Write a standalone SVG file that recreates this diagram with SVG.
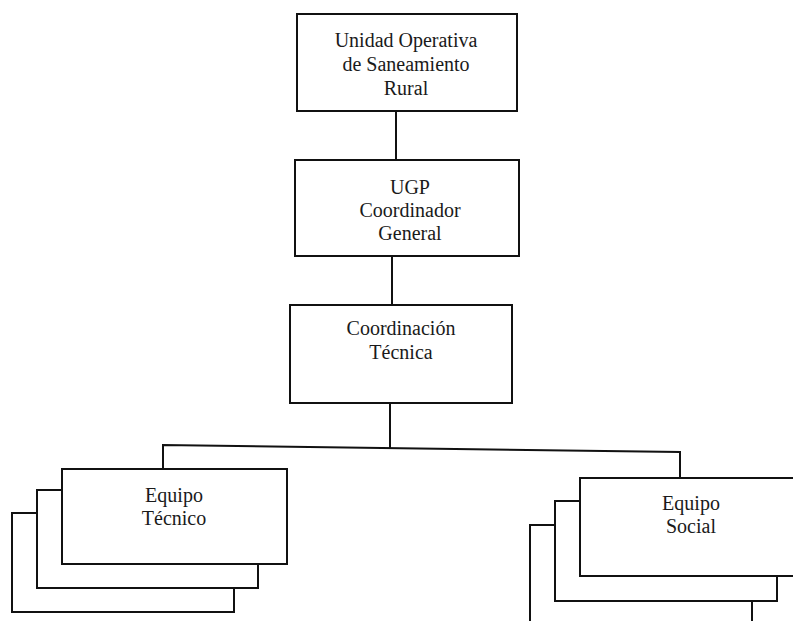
<svg xmlns="http://www.w3.org/2000/svg" width="793" height="621" viewBox="0 0 793 621">
  <style>
    .box { fill: #ffffff; stroke: #111111; stroke-width: 2; }
    .wire { fill: none; stroke: #111111; stroke-width: 2; }
    .label { font-family: "Liberation Serif", "Times New Roman", serif; font-size: 20px; fill: #1a1a1a; text-anchor: middle; }
  </style>
  <rect width="793" height="621" fill="#ffffff"/>

  <!-- connectors -->
  <g id="connectors">
    <path class="wire" d="M396,111 V160"/>
    <path class="wire" d="M392,256 V305"/>
    <path class="wire" d="M390,403 V448"/>
    <path class="wire" d="M163,469 V445 L680,452 V478"/>
  </g>

  <g id="unidad-operativa">
    <rect class="box" x="297" y="14" width="220" height="97"/>
    <text class="label" x="406" y="47">Unidad Operativa</text>
    <text class="label" x="406" y="71">de Saneamiento</text>
    <text class="label" x="406" y="95">Rural</text>
  </g>

  <g id="ugp-coordinador">
    <rect class="box" x="295" y="160" width="224" height="96"/>
    <text class="label" x="410" y="194">UGP</text>
    <text class="label" x="410" y="217">Coordinador</text>
    <text class="label" x="410" y="240">General</text>
  </g>

  <g id="coordinacion-tecnica">
    <rect class="box" x="290" y="305" width="222" height="98"/>
    <text class="label" x="401" y="335">Coordinación</text>
    <text class="label" x="401" y="359">Técnica</text>
  </g>

  <g id="equipo-tecnico">
    <rect class="box" x="12" y="513" width="222" height="99"/>
    <rect class="box" x="37" y="490" width="221" height="98"/>
    <rect class="box" x="62" y="469" width="225" height="95"/>
    <text class="label" x="174" y="502">Equipo</text>
    <text class="label" x="174" y="525">Técnico</text>
  </g>

  <g id="equipo-social">
    <rect class="box" x="530" y="525" width="222" height="100"/>
    <rect class="box" x="555" y="501" width="222" height="100"/>
    <rect class="box" x="580" y="478" width="222" height="98"/>
    <text class="label" x="691" y="510">Equipo</text>
    <text class="label" x="691" y="533">Social</text>
  </g>
</svg>
